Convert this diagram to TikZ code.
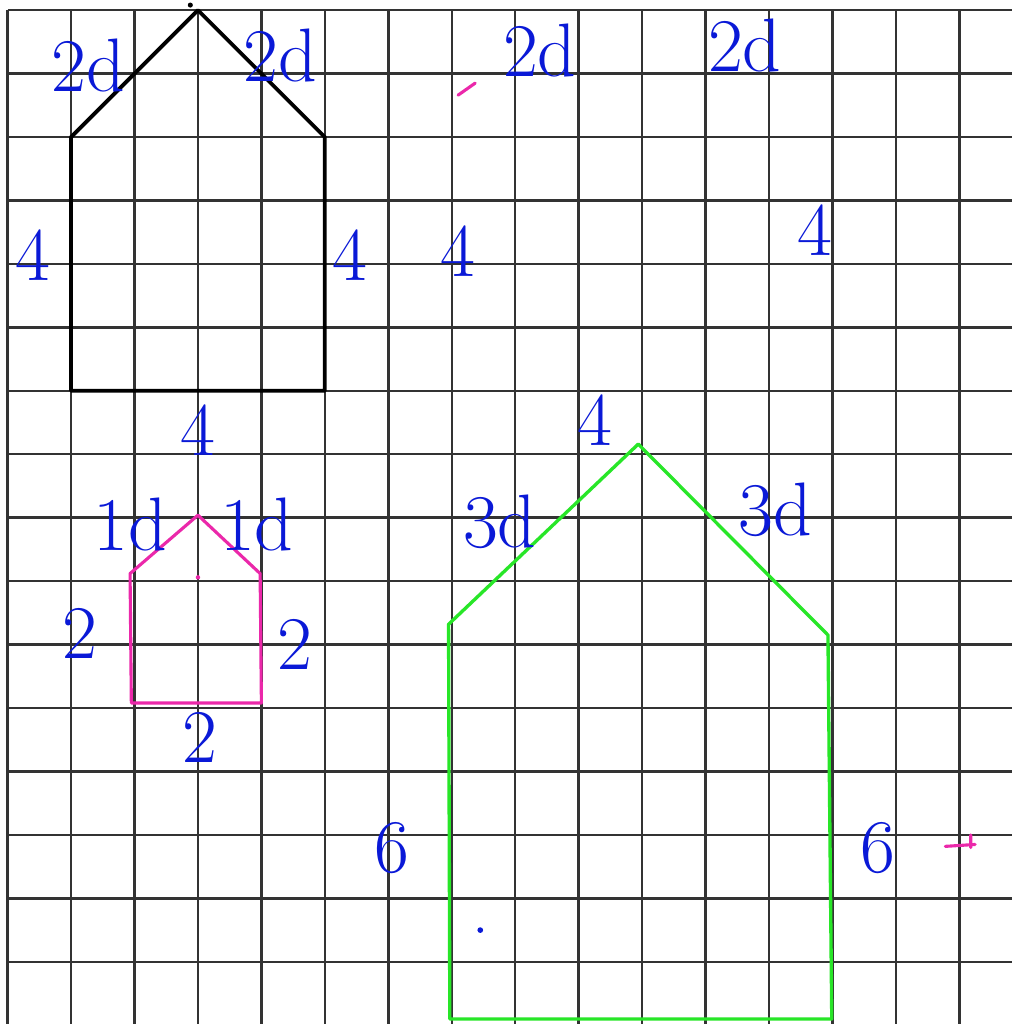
\documentclass[tikz,border=0pt]{standalone}
\usepackage{tikz}
\usetikzlibrary{calc}
\usepackage{xcolor}
\definecolor{inkblue}{RGB}{10,25,215}
\definecolor{inkpink}{RGB}{235,40,170}
\definecolor{inkgreen}{RGB}{40,230,40}

\begin{document}
\begin{tikzpicture}[x=1cm,y=-1cm]
  \tikzset{gridline/.style={draw=black!80,line width=1.1pt}}
  \tikzset{blackpen/.style={draw=black,line width=1.7pt,line join=round}}
  \tikzset{pinkpen/.style={draw=inkpink,line width=1.4pt,line join=round,line cap=round}}
  \tikzset{greenpen/.style={draw=inkgreen,line width=1.5pt,line join=round,line cap=round}}
  \tikzset{sidelabel/.style={font=\fontsize{34}{34}\selectfont,inner sep=0pt,text=inkblue}}
  \useasboundingbox (-0.12,-0.16) rectangle (15.83,15.98);
  \fill[white] (-0.12,-0.16) rectangle (15.83,15.98);
  \draw[gridline] (0,0) grid (15.83,15.98);
  % black house
  \coordinate (b0) at (3,0);
  \coordinate (b1) at (1,2);
  \coordinate (b2) at (1,6);
  \coordinate (b3) at (5,6);
  \coordinate (b4) at (5,2);
  \draw[blackpen] (b0) -- (b1) -- (b2) -- (b3) -- (b4) -- cycle;
  % pink house
  \coordinate (p0) at (3,7.96);
  \coordinate (p1) at (1.93,8.88);
  \coordinate (p2) at (1.95,10.92);
  \coordinate (p3) at (4.0,10.92);
  \coordinate (p4) at (3.98,8.88);
  \draw[pinkpen] (p0) -- (p1) -- (p2) -- (p3) -- (p4) -- cycle;
  % green house
  \coordinate (g0) at (9.94,6.84);
  \coordinate (g1) at (6.95,9.68);
  \coordinate (g2) at (6.97,15.9);
  \coordinate (g3) at (12.99,15.9);
  \coordinate (g4) at (12.93,9.85);
  \draw[greenpen] (g0) -- (g1) -- (g2) -- (g3) -- (g4) -- cycle;
  % stray marks
  \coordinate (m0) at (7.10,1.34);
  \coordinate (m1) at (7.37,1.15);
  \draw[pinkpen] (m0) -- (m1);
  \coordinate (m2) at (14.78,13.18);
  \coordinate (m3) at (15.25,13.15);
  \coordinate (m4) at (15.18,13.0);
  \draw[pinkpen] (m2) -- (m3) (m4) -- ($(m4)+(0,0.2)$);
  \fill[inkpink] (3,8.94) circle (0.035);
  \fill[inkblue] (7.45,14.5) circle (0.045);
  \fill[black] (2.88,-0.08) circle (0.04);
  % labels
  \node[sidelabel] (l0) at (1.27,0.87) {2d};
  \node[sidelabel] (l1) at (4.30,0.72) {2d};
  \node[sidelabel] (l2) at (8.39,0.63) {2d};
  \node[sidelabel] (l3) at (11.62,0.56) {2d};
  \node[sidelabel] (l4) at (0.40,3.86) {4};
  \node[sidelabel] (l5) at (5.40,3.86) {4};
  \node[sidelabel] (l6) at (7.10,3.80) {4};
  \node[sidelabel] (l7) at (12.73,3.46) {4};
  \node[sidelabel] (l8) at (3.00,6.62) {4};
  \node[sidelabel] (l9) at (1.93,8.10) {1d};
  \node[sidelabel] (l10) at (3.93,8.10) {1d};
  \node[sidelabel] (l11) at (1.14,9.82) {2};
  \node[sidelabel] (l12) at (4.53,10.00) {2};
  \node[sidelabel] (l13) at (3.03,11.46) {2};
  \node[sidelabel] (l14) at (9.26,6.46) {4};
  \node[sidelabel] (l15) at (7.76,8.07) {3d};
  \node[sidelabel] (l16) at (12.10,7.88) {3d};
  \node[sidelabel] (l17) at (6.06,13.20) {6};
  \node[sidelabel] (l18) at (13.72,13.20) {6};
\end{tikzpicture}
\end{document}
